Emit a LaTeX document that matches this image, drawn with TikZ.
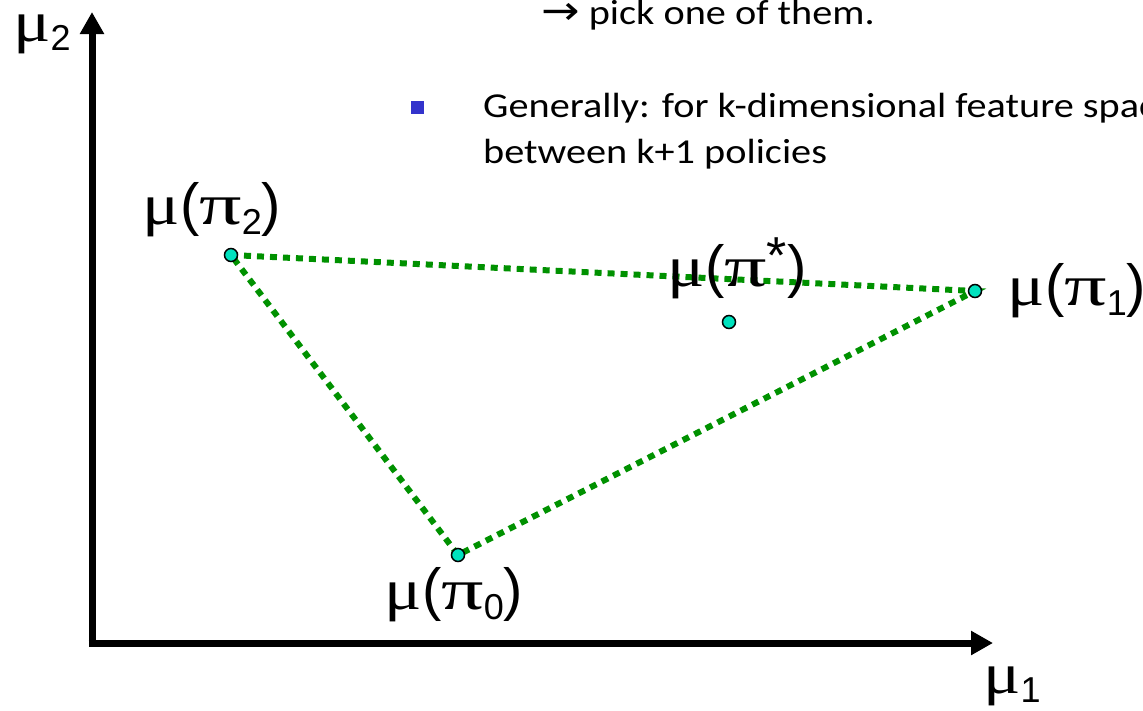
\documentclass[tikz,border=0pt]{standalone}
\usepackage{fontspec}
\setmainfont{Carlito}
\newfontfamily\lab{Liberation Sans}
\newfontfamily\grk{Liberation Serif}
\newfontfamily\sym{DejaVu Sans}
\usetikzlibrary{arrows.meta}
\definecolor{dotgreen}{RGB}{0,145,0}
\definecolor{ptfill}{RGB}{0,226,190}
\definecolor{bulletblue}{RGB}{51,51,204}
\newcommand{\gmu}{{\grk\scalebox{1.2}[1]{μ}}}
\newcommand{\gpi}{{\grk\scalebox{1.45}[1]{π}}}
\newcommand{\sbx}[1]{\raisebox{-0.17em}{\fontsize{36}{36}\selectfont #1}}
\newcommand{\spx}[1]{\raisebox{0.22em}{\fontsize{52}{52}\selectfont #1}}
\newcommand{\txt}[1]{\scalebox{1.15}[1]{#1}}
\tikzset{
  axis/.style={line width=7pt,-{Triangle[length=22pt,width=23pt]}},
  hull/.style={dotgreen,line width=6pt,dash pattern=on 7pt off 6pt},
  pt/.style={circle,draw=black,line width=1.5pt,fill=ptfill,minimum size=13pt,inner sep=0pt},
  mlab/.style={font=\lab\fontsize{58}{62}\selectfont,inner sep=0pt},
  body/.style={font=\fontsize{35}{48}\selectfont,inner sep=0pt,anchor=base west}
}
\begin{document}
\begin{tikzpicture}[x=1pt,y=-1pt]
\useasboundingbox (0,0) rectangle (1143,710);
\clip (0,0) rectangle (1143,710);
% axes
\coordinate (o) at (92,643);
\coordinate (ytip) at (92,12);
\coordinate (xtip) at (993,643);
\draw[axis] ([yshift=-3.5pt]o) -- (ytip);
\draw[axis] ([xshift=-3.5pt]o) -- (xtip);
\node[mlab] (l2) at (42,34) {\gmu\sbx{2}};
\node[mlab] (l1) at (1012,686) {\gmu\sbx{1}};
% points
\coordinate (p2) at (231,255);
\coordinate (p1) at (975,291);
\coordinate (p0) at (458,555);
\coordinate (ps) at (729,322);
\draw[hull] (p2) -- (p1) -- (p0) -- cycle;
\node[pt] (n2) at (p2) {};
\node[pt] (n1) at (p1) {};
\node[pt] (n0) at (p0) {};
\node[pt] (ns) at (ps) {};
\node[mlab] (t2) at (212,210) {\gmu(\gpi\sbx{2})};
\node[mlab] (ts) at (737,268) {\gmu(\gpi\spx{*})};
\node[mlab] (t1) at (1077,291) {\gmu(\gpi\sbx{1})};
\node[mlab] (t0) at (454,595) {\gmu(\gpi\sbx{0})};
% text
\node[body] (a) at (541,24) {\txt{{\sym\fontsize{40}{40}\selectfont →} pick one of them.}};
\fill[bulletblue] (411,101) rectangle (424,114);
\node[body] (g) at (483,117) {\txt{Generally: for k-dimensional feature space}};
\node[body] (b) at (483,163) {\txt{between k+1 policies}};
\end{tikzpicture}
\end{document}
